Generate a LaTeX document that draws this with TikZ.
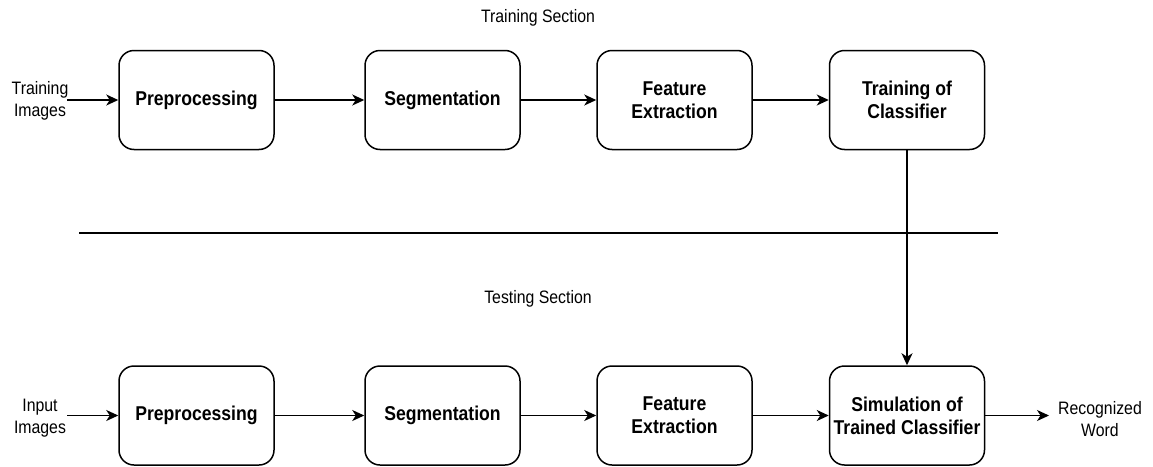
\documentclass[tikz,border=0pt]{standalone}
\usepackage{fontspec}
\setmainfont{Liberation Sans}[FakeStretch=0.88]
\usetikzlibrary{arrows.meta}
\tikzset{
  stagebox/.style={draw, line width=1.5pt, rounded corners=15pt, minimum width=155pt, minimum height=99pt,
    align=center, inner sep=0pt, font=\bfseries\fontsize{20}{23}\selectfont},
  lbl/.style={align=center, inner sep=0pt, font=\fontsize{18}{22}\selectfont},
  flow/.style={line width=1.5pt, -{Stealth[length=12pt,width=11pt,inset=3.5pt]}},
  sep/.style={line width=1.5pt}
}
\begin{document}
\begin{tikzpicture}[x=1pt,y=-1pt]
\useasboundingbox (0,0) rectangle (1153,466);
% section titles
\node[lbl] (trsec) at (538,18) {Training Section};
\node[lbl] (tesec) at (538,299) {Testing Section};
% training row
\node[stagebox] (tp) at (196.5,100) {Preprocessing};
\node[stagebox] (ts) at (442.5,100) {Segmentation};
\node[stagebox] (tf) at (674.5,100) {Feature\\Extraction};
\node[stagebox] (tc) at (907,100) {Training of\\Classifier};
\node[lbl] (tin) at (40,101) {Training\\Images};
\coordinate (tinend) at (67,100);
% testing row
\node[stagebox] (sp) at (196.5,415.5) {Preprocessing};
\node[stagebox] (ss) at (442.5,415.5) {Segmentation};
\node[stagebox] (sf) at (674.5,415.5) {Feature\\Extraction};
\node[stagebox] (sc) at (907,415.5) {Simulation of\\Trained Classifier};
\node[lbl] (sin) at (40,418) {Input\\Images};
\coordinate (sinend) at (67,415.5);
\coordinate (outend) at (1049,415.5);
\node[lbl] (out) at (1100,419) {Recognized\\Word};
% separator
\coordinate (sepL) at (79,233);
\coordinate (sepR) at (998,233);
\draw[sep] (sepL) -- (sepR);
% connectors
\draw[flow] (tinend) -- (tp);
\draw[flow] (tp) -- (ts);
\draw[flow] (ts) -- (tf);
\draw[flow] (tf) -- (tc);
\draw[flow] (tc) -- (sc);
\draw[flow] (sinend) -- (sp);
\draw[flow] (sp) -- (ss);
\draw[flow] (ss) -- (sf);
\draw[flow] (sf) -- (sc);
\draw[flow] (sc.east) -- (outend);
\end{tikzpicture}
\end{document}
